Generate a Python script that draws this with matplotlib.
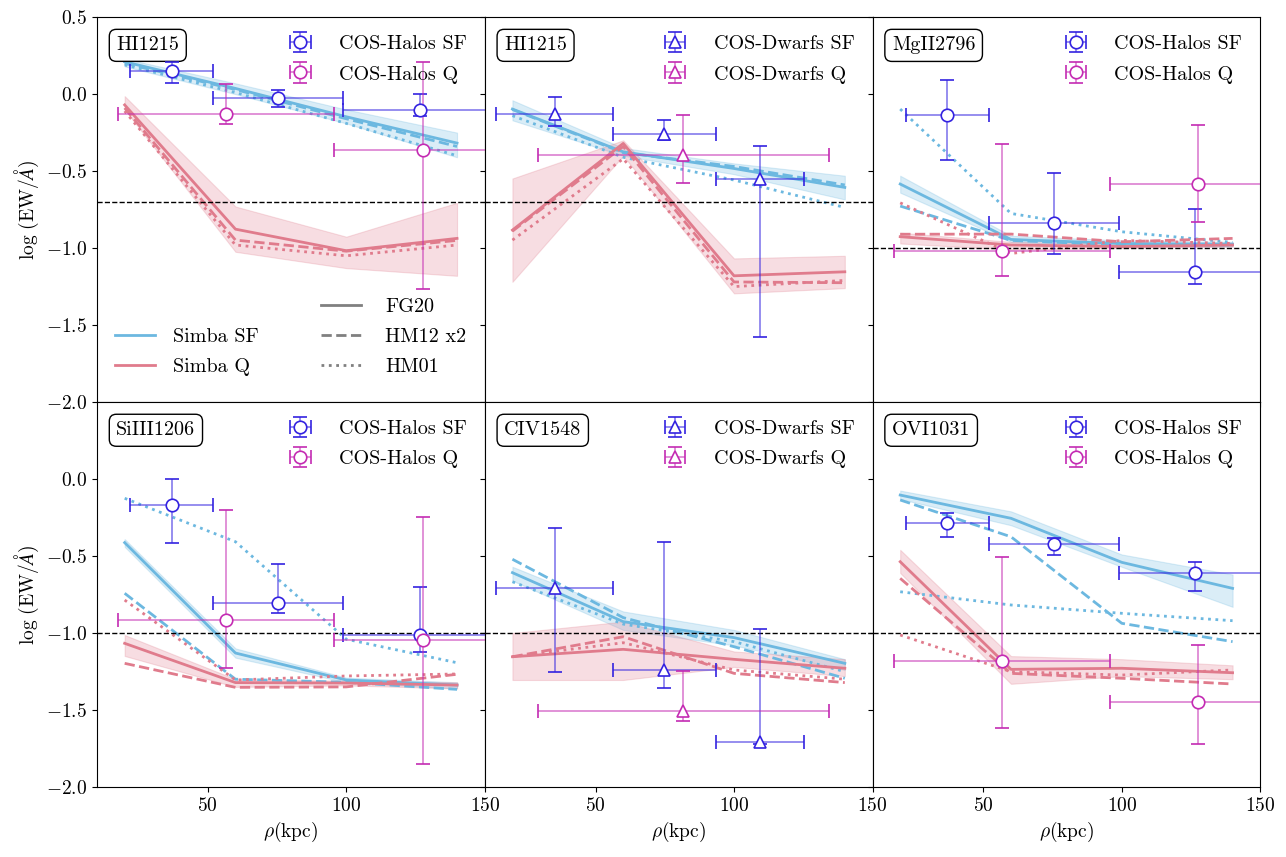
import matplotlib
matplotlib.use('Agg')
import matplotlib.pyplot as plt
from matplotlib.lines import Line2D
import numpy as np

plt.rcParams['font.family'] = 'serif'
plt.rcParams['font.serif'] = ['cmr10']
plt.rcParams['mathtext.fontset'] = 'cm'
plt.rcParams['axes.formatter.use_mathtext'] = True
plt.rcParams['font.size'] = 14

# impact parameter bins of the simulation profiles (kpc)
r_sim = [20, 60, 100, 140]

lines = ['HI1215', 'HI1215', 'MgII2796', 'SiIII1206', 'CIV1548', 'OVI1031']
surveys = ['halos', 'dwarfs', 'halos', 'halos', 'dwarfs', 'halos']
ew_lim = [-0.7, -0.7, -1.0, -1.0, -1.0, -1.0]

# Simba SF, one row per panel
sf_fg20 = [[0.21, 0.037, -0.147, -0.318],
           [-0.097, -0.375, -0.483, -0.606],
           [-0.584, -0.944, -0.97, -0.975],
           [-0.413, -1.13, -1.305, -1.338],
           [-0.608, -0.926, -1.03, -1.197],
           [-0.104, -0.255, -0.541, -0.71]]
sf_lo = [[0.18, 0.0, -0.19, -0.41],
         [-0.17, -0.40, -0.52, -0.684],
         [-0.64, -0.96, -0.99, -0.99],
         [-0.44, -1.16, -1.32, -1.36],
         [-0.66, -0.98, -1.08, -1.24],
         [-0.13, -0.30, -0.57, -0.83]]
sf_hi = [[0.23, 0.07, -0.10, -0.25],
         [-0.04, -0.35, -0.45, -0.53],
         [-0.53, -0.92, -0.95, -0.96],
         [-0.39, -1.10, -1.29, -1.32],
         [-0.57, -0.86, -0.98, -1.17],
         [-0.075, -0.21, -0.49, -0.62]]
sf_hm12 = [[0.20, 0.03, -0.16, -0.34],
           [-0.10, -0.38, -0.47, -0.59],
           [-0.727, -0.95, -0.98, -0.98],
           [-0.742, -1.30, -1.32, -1.366],
           [-0.521, -0.90, -1.089, -1.294],
           [-0.136, -0.375, -0.937, -1.056]]
sf_hm01 = [[0.19, 0.01, -0.19, -0.40],
           [-0.14, -0.41, -0.558, -0.736],
           [-0.097, -0.775, -0.894, -0.963],
           [-0.125, -0.407, -1.04, -1.193],
           [-0.667, -0.942, -1.056, -1.251],
           [-0.732, -0.818, -0.872, -0.92]]

# Simba Q
q_fg20 = [[-0.07, -0.877, -1.017, -0.937],
          [-0.883, -0.32, -1.18, -1.154],
          [-0.926, -0.98, -0.99, -0.98],
          [-1.067, -1.322, -1.325, -1.338],
          [-1.154, -1.106, -1.171, -1.229],
          [-0.537, -1.236, -1.229, -1.258]]
q_lo = [[-0.10, -1.024, -1.13, -1.18],
        [-1.219, -0.40, -1.294, -1.26],
        [-0.97, -1.01, -1.0, -0.99],
        [-1.149, -1.35, -1.34, -1.36],
        [-1.305, -1.305, -1.22, -1.28],
        [-0.61, -1.33, -1.28, -1.30]]
q_hi = [[-0.013, -0.73, -0.926, -0.706],
        [-0.548, -0.30, -1.067, -1.05],
        [-0.90, -0.96, -0.97, -0.965],
        [-1.013, -1.30, -1.31, -1.32],
        [-1.0, -0.926, -1.12, -1.17],
        [-0.46, -1.15, -1.17, -1.21]]
q_hm12 = [[-0.09, -0.948, -1.02, -0.95],
          [-0.89, -0.34, -1.22, -1.225],
          [-0.91, -0.909, -0.959, -0.937],
          [-1.197, -1.353, -1.35, -1.268],
          [-1.154, -1.024, -1.262, -1.322],
          [-0.645, -1.262, -1.294, -1.331]]
q_hm01 = [[-0.11, -0.98, -1.05, -0.98],
          [-0.948, -0.42, -1.25, -1.21],
          [-0.706, -1.035, -0.95, -0.97],
          [-0.786, -1.305, -1.279, -1.266],
          [-1.154, -1.063, -1.24, -1.30],
          [-1.013, -1.251, -1.273, -1.24]]

# observed bins (kpc)
halos_sf_r = [37.0, 75.5, 126.5]
halos_sf_edges = [22.0, 52.0, 99.0, 160.0]
halos_q_r = [56.7, 127.6]
halos_q_edges = [17.7, 95.7, 160.0]
dwarfs_sf_r = [35.3, 74.7, 109.4]
dwarfs_sf_edges = [14.2, 56.3, 93.4, 125.3]
dwarfs_q_r = [81.6]
dwarfs_q_edges = [29.2, 134.3]

# observed log EW, with upper and lower ends of the y error bars
obs_sf = [[0.147, -0.028, -0.10], [-0.13, -0.262, -0.554], [-0.136, -0.84, -1.154],
          [-0.169, -0.803, -1.013], [-0.71, -1.24, -1.706], [-0.288, -0.424, -0.612]]
obs_sf_up = [[0.21, 0.026, -0.002], [-0.02, -0.17, -0.336], [0.09, -0.515, -0.749],
             [0.0, -0.554, -0.703], [-0.32, -0.411, -0.976], [-0.223, -0.381, -0.541]]
obs_sf_dn = [[0.073, -0.082, -0.143], [-0.21, -0.30, -1.58], [-0.43, -1.04, -1.234],
             [-0.418, -0.872, -1.125], [-1.255, -1.359, -1.72], [-0.379, -0.496, -0.727]]
obs_q = [[-0.13, -0.364], [-0.396], [-1.017, -0.584],
         [-0.916, -1.045], [-1.504], [-1.182, -1.45]]
obs_q_up = [[0.069, 0.206], [-0.138], [-0.327, -0.2],
            [-0.201, -0.245], [-1.245], [-0.508, -1.078]]
obs_q_dn = [[-0.197, -1.268], [-0.576], [-1.18, -0.829],
            [-1.229, -1.85], [-1.569], [-1.619, -1.721]]

c_sf = '#6cb8e0'
c_q = '#e07b8c'
c_obs_sf = '#3322e0'
c_obs_q = '#c42bb3'


def obs_errorbar(ax, r, edges, y, up, dn, color, marker, label):
    r = np.array(r)
    y = np.array(y)
    xerr = [r - np.array(edges[:-1]), np.array(edges[1:]) - r]
    yerr = [y - np.array(dn), np.array(up) - y]
    eb = ax.errorbar(r, y, xerr=xerr, yerr=yerr, ls='none', marker=marker, ms=9,
                     mfc='white', mec=color, mew=1.2, ecolor=color, elinewidth=1.2,
                     capsize=5, capthick=1.2, label=label, zorder=5)
    for lc in eb[2]:
        lc.set_alpha(0.6)
    return eb


fig, axes = plt.subplots(2, 3, figsize=(12.86, 8.57), dpi=100)
fig.subplots_adjust(left=0.0754, right=0.98, bottom=0.0817, top=0.98, wspace=0, hspace=0)
axes = axes.flatten()

for i, ax in enumerate(axes):
    ax.fill_between(r_sim, sf_lo[i], sf_hi[i], color=c_sf, alpha=0.25, lw=0.8)
    ax.fill_between(r_sim, q_lo[i], q_hi[i], color=c_q, alpha=0.25, lw=0.8)
    ax.plot(r_sim, sf_fg20[i], color=c_sf, lw=2, ls='-')
    ax.plot(r_sim, sf_hm12[i], color=c_sf, lw=2, ls='--')
    ax.plot(r_sim, sf_hm01[i], color=c_sf, lw=2, ls=':')
    ax.plot(r_sim, q_fg20[i], color=c_q, lw=2, ls='-')
    ax.plot(r_sim, q_hm12[i], color=c_q, lw=2, ls='--')
    ax.plot(r_sim, q_hm01[i], color=c_q, lw=2, ls=':')
    ax.axhline(ew_lim[i], color='k', ls='--', lw=1)

    if surveys[i] == 'halos':
        h1 = obs_errorbar(ax, halos_sf_r, halos_sf_edges, obs_sf[i], obs_sf_up[i], obs_sf_dn[i],
                          c_obs_sf, 'o', 'COS-Halos SF')
        h2 = obs_errorbar(ax, halos_q_r, halos_q_edges, obs_q[i], obs_q_up[i], obs_q_dn[i],
                          c_obs_q, 'o', 'COS-Halos Q')
    else:
        h1 = obs_errorbar(ax, dwarfs_sf_r, dwarfs_sf_edges, obs_sf[i], obs_sf_up[i], obs_sf_dn[i],
                          c_obs_sf, '^', 'COS-Dwarfs SF')
        h2 = obs_errorbar(ax, dwarfs_q_r, dwarfs_q_edges, obs_q[i], obs_q_up[i], obs_q_dn[i],
                          c_obs_q, '^', 'COS-Dwarfs Q')

    leg_obs = ax.legend(handles=[h1, h2], loc='upper right', frameon=False, fontsize=14.5,
                        handletextpad=0.9, labelspacing=0.6)
    if i == 0:
        ax.add_artist(leg_obs)

    ax.text(0.05, 0.95, lines[i], transform=ax.transAxes, va='top', ha='left', fontsize=14.5,
            bbox=dict(boxstyle='round,pad=0.35', fc='white', ec='k'))

    ax.set_xlim(10, 150)
    ax.set_ylim(-2.0, 0.5)
    ax.set_xticks([50, 100, 150])
    if i < 3:
        ax.set_yticks([-2.0, -1.5, -1.0, -0.5, 0.0, 0.5])
        ax.tick_params(labelbottom=False)
    else:
        ax.set_yticks([-2.0, -1.5, -1.0, -0.5, 0.0])
        ax.set_xlabel(r'$\rho$(kpc)')
    if i % 3 == 0:
        ax.set_ylabel(r'$\log\,({\rm EW}/\AA)$')
    else:
        ax.tick_params(labelleft=False)

# extra legends in the first panel
ax = axes[0]
sim_handles = [Line2D([], [], color=c_sf, lw=2), Line2D([], [], color=c_q, lw=2)]
leg_sim = ax.legend(sim_handles, ['Simba SF', 'Simba Q'], loc='lower left', frameon=False,
                    fontsize=14.5, bbox_to_anchor=(0.0, 0.02), handletextpad=0.9,
                    labelspacing=0.6)
ax.add_artist(leg_sim)
uvb_handles = [Line2D([], [], color='grey', lw=2, ls=ls) for ls in ['-', '--', ':']]
ax.legend(uvb_handles, ['FG20', 'HM12 x2', 'HM01'], loc='lower right', frameon=False,
          fontsize=14.5, bbox_to_anchor=(1.0, 0.02), handletextpad=1.2, labelspacing=0.6)

fig.savefig('out.png', dpi=100)
